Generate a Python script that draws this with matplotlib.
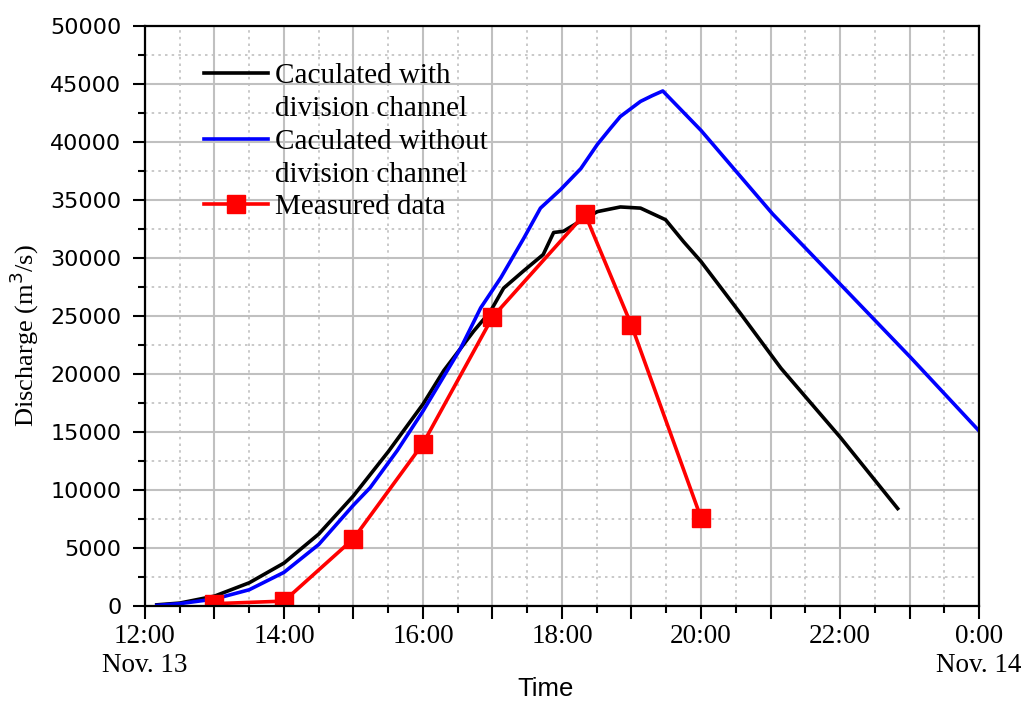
import matplotlib
matplotlib.use('Agg')
import matplotlib.pyplot as plt
import numpy as np
from matplotlib.ticker import MultipleLocator, FuncFormatter
from matplotlib.lines import Line2D

# hours after midnight, Nov. 13 (24 = 0:00 Nov. 14)
t_with = [12.17, 12.5, 13.0, 13.5, 14.0, 14.5, 15.0, 15.5, 16.0, 16.3, 16.73, 16.97,
          17.16, 17.45, 17.73, 17.88, 18.02, 18.27, 18.51, 18.84, 19.13, 19.49, 19.75,
          20.0, 20.57, 21.15, 22.01, 22.83]
q_with = [100, 250, 850, 2000, 3700, 6200, 9500, 13300, 17400, 20300, 23700, 25400,
          27400, 28900, 30300, 32200, 32300, 33200, 34000, 34400, 34300, 33300, 31400,
          29700, 25200, 20500, 14500, 8400]

t_without = [12.17, 12.5, 13.0, 13.5, 14.0, 14.5, 15.0, 15.24, 15.63, 16.0, 16.54, 16.83,
             17.12, 17.45, 17.69, 17.98, 18.27, 18.51, 18.7, 18.84, 19.13, 19.3, 19.45,
             20.0, 21.03, 22.01, 23.02, 24.0]
q_without = [50, 200, 600, 1400, 2900, 5300, 8700, 10200, 13400, 16800, 22200, 25700,
             28300, 31700, 34300, 35900, 37700, 39800, 41200, 42200, 43500, 44000, 44400,
             41000, 33800, 27700, 21400, 15100]

t_meas = [13, 14, 15, 16, 17, 18.33, 19, 20]
q_meas = [200, 420, 5800, 14000, 24900, 33800, 24200, 7600]

fig = plt.figure(figsize=(10.26, 7.03), dpi=100)
ax = fig.add_axes([0.1413, 0.138, 0.8129, 0.825])

l1, = ax.plot(t_with, q_with, color='black', lw=2.6)
l2, = ax.plot(t_without, q_without, color='#0000ff', lw=2.6)
l3, = ax.plot(t_meas, q_meas, color='#ff0000', lw=2.6, marker='s', markersize=13)

ax.set_xlim(12, 24)
ax.set_ylim(0, 50000)

ax.xaxis.set_major_locator(MultipleLocator(1))
ax.xaxis.set_minor_locator(MultipleLocator(0.5))
ax.yaxis.set_major_locator(MultipleLocator(5000))
ax.yaxis.set_minor_locator(MultipleLocator(2500))


def fmt_time(x, pos):
    h = int(round(x))
    if h % 2:
        return ''
    if h == 12:
        return '12:00\nNov. 13'
    if h == 24:
        return '0:00\nNov. 14'
    return '%d:00' % h


ax.xaxis.set_major_formatter(FuncFormatter(fmt_time))

ax.grid(which='major', color='#c0c0c0', lw=1.5, ls='-')
ax.grid(which='minor', color='#c0c0c0', lw=1.2, ls=(0, (1.5, 2.5)))
ax.set_axisbelow(True)

ax.tick_params(which='major', direction='out', length=9, width=1.5, top=False, right=False)
ax.tick_params(which='minor', direction='out', length=5, width=1.5, top=False, right=False)
ax.tick_params(axis='y', pad=8)
ax.tick_params(axis='x', pad=4)
for s in ax.spines.values():
    s.set_linewidth(1.6)

for lab in ax.get_xticklabels():
    lab.set_fontfamily('Liberation Serif')
    lab.set_fontsize(19.5)
    lab.set_linespacing(1.2)
for lab in ax.get_yticklabels():
    lab.set_fontfamily('DejaVu Sans')
    lab.set_fontsize(16)

ax.set_xlabel('Time', fontfamily='Liberation Sans', fontsize=18.5)
ax.xaxis.set_label_coords(0.48, -0.122)
ax.set_ylabel('Discharge (m$^3$/s)', fontfamily='Liberation Serif', fontsize=19)
ax.yaxis.set_label_coords(-0.125, 0.467)

blank = Line2D([], [], color='none')
leg = ax.legend([l1, blank, l2, blank, l3],
                ['Caculated with', 'division channel', 'Caculated without',
                 'division channel', 'Measured data'],
                loc='upper left', bbox_to_anchor=(0.053, 0.962), frameon=False,
                prop={'family': 'Liberation Serif', 'size': 21},
                handlelength=2.2, handletextpad=0.25, labelspacing=0.22, borderpad=0)

fig.savefig('out.png', dpi=100)
